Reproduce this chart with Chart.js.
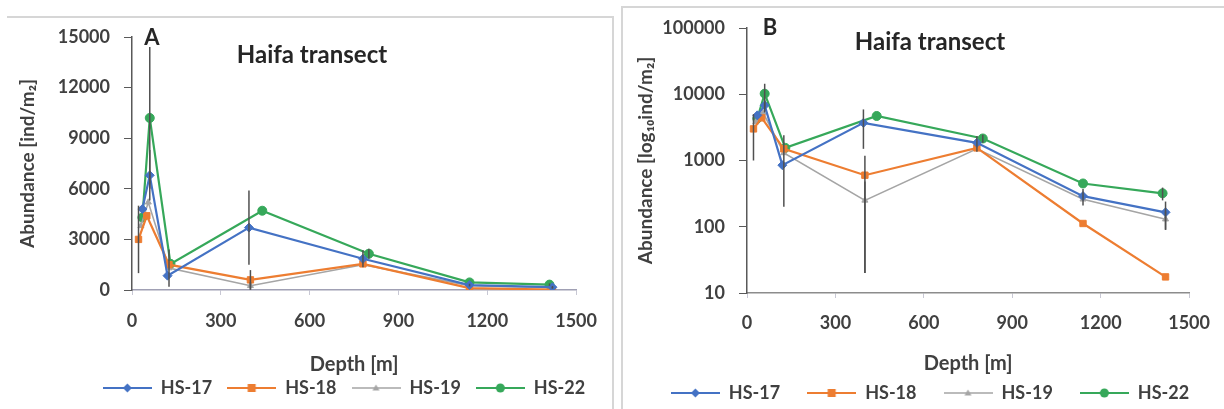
<!DOCTYPE html>
<html>
<head>
<meta charset="utf-8">
<title>Haifa transect</title>
<script src="https://cdn.jsdelivr.net/npm/chart.js@4.4.1/dist/chart.umd.min.js"></script>
<style>
  body { margin: 0; background: #fff; }
  #wrap { position: relative; width: 1224px; height: 409px; overflow: hidden; }
  .box { position: absolute; top: 0; width: 612px; height: 409px; }
  #boxA { left: 0; }
  #boxB { left: 612px; }
  .frame { position: absolute; background: #d6d6d6; }
</style>
</head>
<body>
<div id="wrap">
  <div class="box" id="boxA"><canvas id="chartA" width="612" height="409"></canvas></div>
  <div class="box" id="boxB"><canvas id="chartB" width="612" height="409"></canvas></div>
  <div class="frame" style="left:7px;top:16px;width:607px;height:2px"></div>
  <div class="frame" style="left:612px;top:16px;width:2px;height:393px"></div>
  <div class="frame" style="left:621px;top:6px;width:603px;height:2px"></div>
  <div class="frame" style="left:621px;top:6px;width:2px;height:403px"></div>
</div>
<script>
// ticks
var depthTicks = [0, 300, 600, 900, 1200, 1500];
var linTicks = [0, 3000, 6000, 9000, 12000, 15000];
var logTicks = [10, 100, 1000, 10000, 100000];

var estaciones = ["HS-17", "HS-18", "HS-19", "HS-22"];

// depth [m], abundance [ind/m2], error
var hs17Depth = [35, 60, 120, 395, 780, 1140, 1420];
var hs17Abund = [4800, 6800, 850, 3700, 1850, 290, 165];
var hs17Err = [0, 1500, 0, 2200, 500, 80, 75];

var hs18Depth = [22, 50, 125, 400, 780, 1140, 1420];
var hs18Abund = [3000, 4400, 1500, 600, 1550, 112, 17.5];
var hs18Err = [2000, 0, 0, 580, 0, 0, 0];

var hs19Depth = [30, 55, 125, 400, 780, 1140, 1420];
var hs19Abund = [3800, 5200, 1300, 250, 1500, 260, 130];
var hs19Err = [0, 0, 1100, 230, 0, 0, 40];

var hs22Depth = [35, 60, 130, 440, 800, 1140, 1410];
var hs22Abund = [4300, 10200, 1550, 4700, 2150, 450, 320];
var hs22Err = [0, 4200, 0, 0, 300, 0, 70];

var colores = ["#4472C4", "#ED7D31", "#A5A5A5", "#36A85A"];
var marcas = ["rectRot", "rect", "triangle", "circle"];
var grosor = [2.2, 2.2, 1.6, 2.2];

Chart.defaults.font.family = "Lato";
Chart.defaults.color = "#404040";

function puntos(depth, abund) {
  var p = [];
  for (var i = 0; i < depth.length; i++) {
    p.push({ x: depth[i], y: abund[i] });
  }
  return p;
}

// small line + marker picture for the legend
function iconoLeyenda(color, estilo, lw) {
  var c = document.createElement("canvas");
  c.width = 49;
  c.height = 14;
  var g = c.getContext("2d");
  g.strokeStyle = color;
  g.fillStyle = color;
  g.lineWidth = lw;
  g.beginPath();
  g.moveTo(0, 7);
  g.lineTo(49, 7);
  g.stroke();
  g.beginPath();
  if (estilo == "rectRot") {
    g.moveTo(24.5, 2.5); g.lineTo(29, 7); g.lineTo(24.5, 11.5); g.lineTo(20, 7);
  } else if (estilo == "rect") {
    g.rect(20.5, 3, 8, 8);
  } else if (estilo == "triangle") {
    g.moveTo(24.5, 3.5); g.lineTo(28, 9.5); g.lineTo(21, 9.5);
  } else {
    g.arc(24.5, 7, 4.5, 0, Math.PI * 2);
  }
  g.closePath();
  g.fill();
  return c;
}

var iconos = [];
for (var k = 0; k < colores.length; k++) {
  iconos.push(iconoLeyenda(colores[k], marcas[k], grosor[k]));
}

function makeDatasets() {
  var deps = [hs17Depth, hs18Depth, hs19Depth, hs22Depth];
  var abus = [hs17Abund, hs18Abund, hs19Abund, hs22Abund];
  var errs = [hs17Err, hs18Err, hs19Err, hs22Err];
  var ds = [];
  for (var i = 0; i < estaciones.length; i++) {
    ds.push({
      label: estaciones[i],
      data: puntos(deps[i], abus[i]),
      errores: errs[i],
      borderColor: colores[i],
      backgroundColor: colores[i],
      borderWidth: grosor[i],
      pointStyle: marcas[i],
      pointRadius: marcas[i] == "triangle" ? 3.5 : 4.5,
      pointBorderWidth: 1,
      tension: 0,
    });
  }
  return ds;
}

// vertical error bars, through the chart's own scales
var errorBars = {
  id: "errorBars",
  afterDatasetsDraw: function (chart) {
    var ctx = chart.ctx;
    var xs = chart.scales.x;
    var ys = chart.scales.y;
    var a = chart.chartArea;
    ctx.save();
    ctx.beginPath();
    ctx.rect(a.left, a.top, a.right - a.left, a.bottom - a.top);
    ctx.clip();
    ctx.strokeStyle = "#505050";
    ctx.lineWidth = 1.5;
    chart.data.datasets.forEach(function (ds) {
      ds.data.forEach(function (p, i) {
        var e = ds.errores[i];
        if (!e) return;
        var lo = p.y - e;
        if (lo < ys.min) lo = ys.min;
        var x = xs.getPixelForValue(p.x);
        ctx.beginPath();
        ctx.moveTo(x, ys.getPixelForValue(lo));
        ctx.lineTo(x, ys.getPixelForValue(p.y + e));
        ctx.stroke();
      });
    });
    ctx.restore();
  },
};

// panel letter and title
var rotulos = {
  id: "rotulos",
  afterDraw: function (chart, args, opts) {
    var ctx = chart.ctx;
    ctx.save();
    ctx.fillStyle = "#262626";
    ctx.textAlign = "center";
    ctx.textBaseline = "middle";
    ctx.font = "bold 22px Lato";
    ctx.fillText(opts.letra, opts.lx, opts.ly);
    ctx.font = "bold 24px Lato";
    ctx.fillText("Haifa transect", opts.tx, opts.ty);
    ctx.restore();
  },
};

// put the legend where it sits in the figure (box goes to the bottom so nothing is clipped)
var moverLeyenda = {
  id: "moverLeyenda",
  afterLayout: function (chart, args, opts) {
    var lg = chart.legend;
    var dx = opts.cx - (lg.left + lg.right) / 2;
    lg.left += dx;
    lg.right += dx;
    var top = opts.cy - opts.pad - opts.size / 2;
    lg.top = top;
    lg.bottom = chart.height;
    lg.height = chart.height - top;
  },
};

function makeChart(id, cfg) {
  var ctx = document.getElementById(id).getContext("2d");
  var tickFont = { family: "Lato", size: 18, weight: "bold" };
  var titleFont = { family: "Lato", size: 20, weight: "bold" };
  return new Chart(ctx, {
    type: "line",
    data: { datasets: makeDatasets() },
    plugins: [errorBars, rotulos, moverLeyenda],
    options: {
      responsive: false,
      animation: false,
      layout: {
        padding: { left: 0, right: cfg.padRight, top: cfg.padTop, bottom: cfg.padBottom },
      },
      scales: {
        x: {
          type: "linear",
          min: 0,
          max: 1500,
          afterBuildTicks: function (scale) {
            scale.ticks = depthTicks.map(function (v) { return { value: v }; });
          },
          afterFit: function (scale) { scale.height = cfg.xHeight; },
          ticks: { font: tickFont, color: "#404040", padding: cfg.xTickPad, maxRotation: 0,
            callback: function (v) { return String(v); } },
          grid: { drawOnChartArea: false, tickLength: 5, tickColor: "#c8c8d4" },
          border: { color: cfg.xAxisColor, width: 1.5 },
          title: { display: true, text: "Depth [m]", font: titleFont, color: "#404040",
            padding: { top: 0, bottom: cfg.xTitlePad } },
        },
        y: {
          type: cfg.yType,
          min: cfg.yMin,
          max: cfg.yMax,
          afterBuildTicks: function (scale) {
            scale.ticks = cfg.yTicks.map(function (v) { return { value: v }; });
          },
          afterFit: function (scale) { scale.width = cfg.yWidth; },
          ticks: { font: tickFont, color: "#404040", padding: 14,
            callback: function (v) { return String(v); } },
          grid: { drawOnChartArea: false, tickLength: 8, tickColor: "#595959" },
          border: { color: "#595959", width: 1.5 },
          title: { display: true, text: cfg.yTitle, font: { family: "Lato", size: 19, weight: "bold" },
            color: "#404040", padding: { top: cfg.yTitlePad, bottom: 0 } },
        },
      },
      plugins: {
        legend: {
          position: "bottom",
          maxHeight: 20,
          labels: {
            usePointStyle: true,
            pointStyleWidth: 49,
            padding: cfg.legPad,
            color: "#404040",
            font: { family: "Lato", size: 18, weight: "bold" },
            generateLabels: function (chart) {
              var items = Chart.defaults.plugins.legend.labels.generateLabels(chart);
              items.forEach(function (it, i) { it.pointStyle = iconos[i]; });
              return items;
            },
          },
        },
        tooltip: { enabled: false },
        rotulos: cfg.rotulos,
        moverLeyenda: { cx: cfg.legX, cy: cfg.legY, pad: cfg.legPad, size: 18 },
      },
    },
  });
}

var chartA = makeChart("chartA", {
  padRight: 35, padTop: 37, padBottom: 9, xHeight: 90, yWidth: 132,
  xTickPad: 15, xTitlePad: 3,
  yType: "linear", yMin: 0, yMax: 15000, yTicks: linTicks,
  yTitle: "Abundance [ind/m\u2082]", yTitlePad: 16,
  xAxisColor: "#a0a0b4", legPad: 15, legX: 344, legY: 388,
  rotulos: { letra: "A", lx: 152, ly: 38, tx: 312, ty: 55 },
});

var chartB = makeChart("chartB", {
  padRight: 27, padTop: 28, padBottom: 6, xHeight: 90, yWidth: 135,
  xTickPad: 14, xTitlePad: 7,
  yType: "logarithmic", yMin: 10, yMax: 100000, yTicks: logTicks,
  yTitle: "Abundance [log\u2081\u2080ind/m\u2082]", yTitlePad: 22,
  xAxisColor: "#8c8c8c", legPad: 27, legX: 318, legY: 393,
  rotulos: { letra: "B", lx: 158, ly: 28, tx: 318, ty: 42 },
});
console.log("charts listos");
</script>
</body>
</html>
